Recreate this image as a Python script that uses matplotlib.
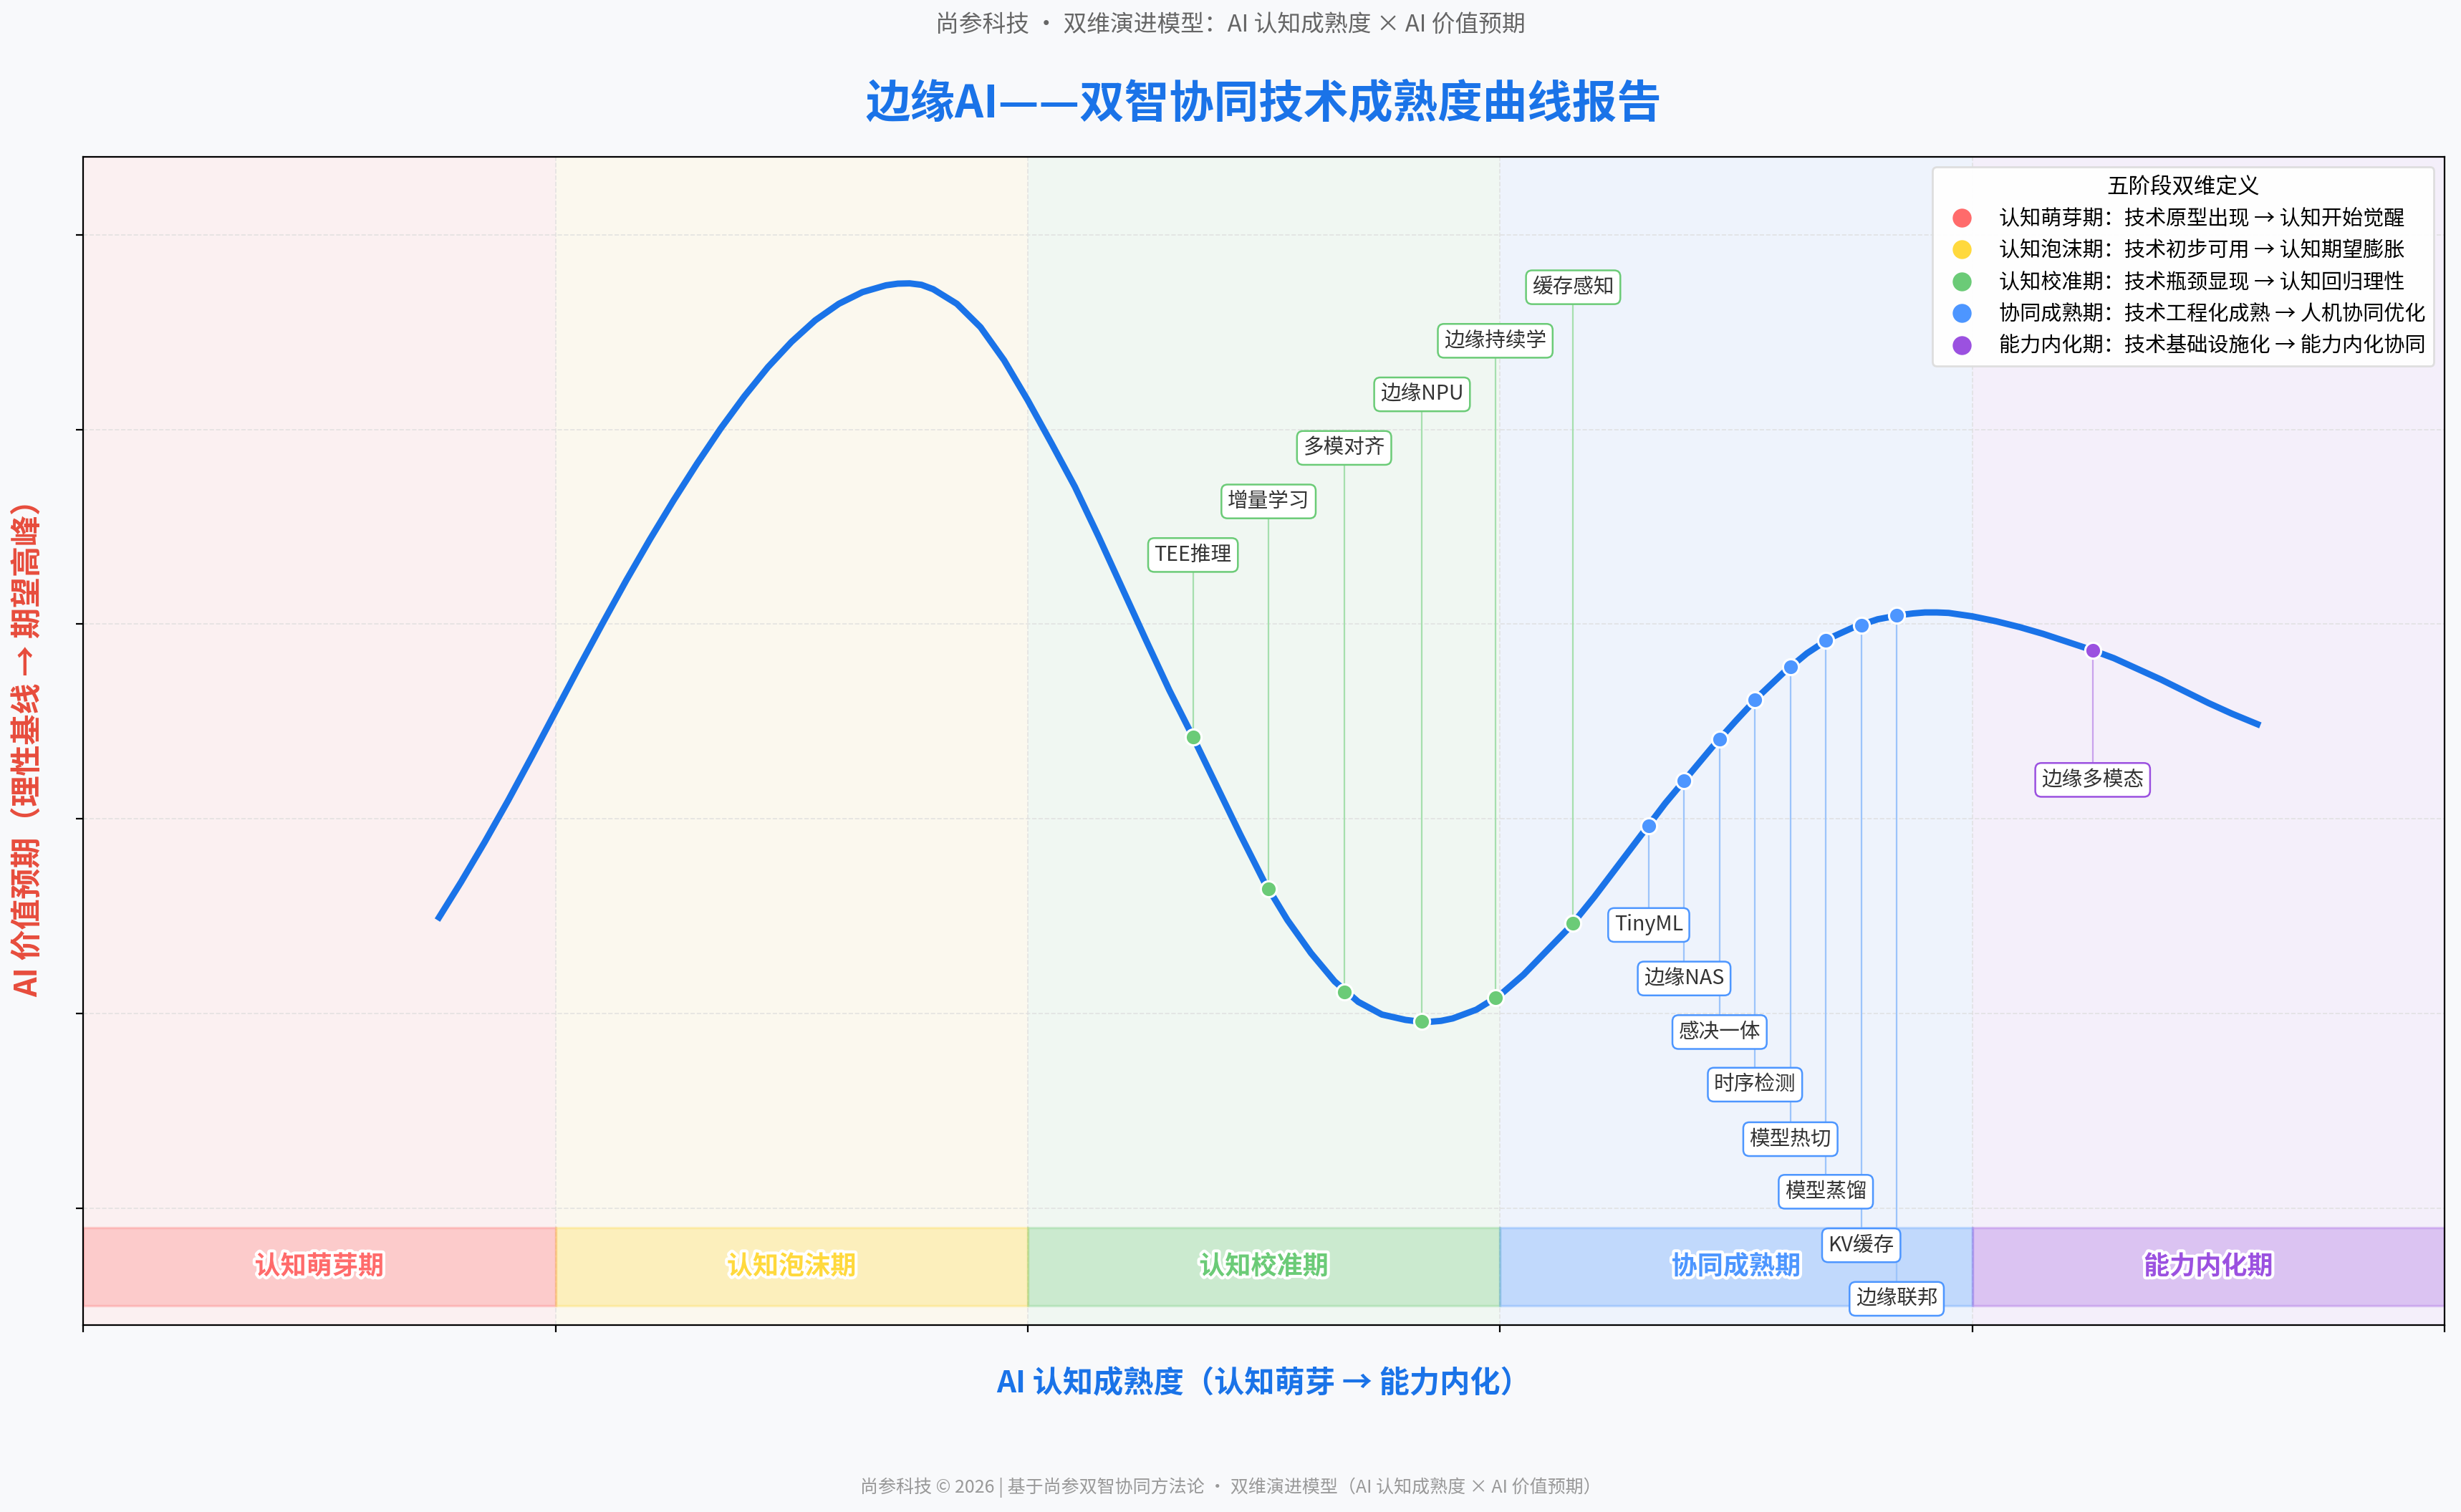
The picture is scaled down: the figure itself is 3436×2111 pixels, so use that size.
import matplotlib
matplotlib.use("Agg")
import matplotlib.pyplot as plt
import matplotlib.patheffects as pe
from matplotlib.patches import Rectangle
from matplotlib.lines import Line2D

plt.rcParams['font.family'] = ['Noto Sans CJK SC', 'DejaVu Sans']

# five phases
phases = ['认知萌芽期', '认知泡沫期', '认知校准期', '协同成熟期', '能力内化期']
phase_colors = ['#ff6b6b', '#ffd93d', '#6bcb77', '#4d96ff', '#9b51e0']
phase_desc = ['技术原型出现 → 认知开始觉醒',
              '技术初步可用 → 认知期望膨胀',
              '技术瓶颈显现 → 认知回归理性',
              '技术工程化成熟 → 人机协同优化',
              '技术基础设施化 → 能力内化协同']

# curve
curve_x = [15, 16, 17, 18, 19, 20, 21, 22, 23, 24, 25, 26, 27, 28, 29, 30,
           31, 32, 33, 34, 34.5, 35, 35.5, 36, 37, 38, 39, 40, 41, 42, 43, 44,
           45, 46, 47, 48, 49, 50, 51, 52, 53, 54, 55, 56, 56.5, 57, 57.5, 58,
           59, 60, 61, 62, 63, 64, 65, 66, 67, 68, 69, 70, 71, 72, 73, 74,
           75, 76, 77, 77.5, 78, 78.5, 79, 80, 81, 82, 83, 84, 85, 86, 87, 88,
           89, 90, 91, 92.2]
curve_y = [29.6, 33.5, 37.6, 41.9, 46.4, 51.0, 55.6, 60.1, 64.5, 68.7, 72.7, 76.5,
           80.1, 83.4, 86.4, 89.0, 91.2, 92.9, 94.1, 94.8, 94.97, 95.0, 94.85, 94.4,
           92.9, 90.5, 87.1, 83.0, 78.6, 74.1, 69.0, 63.7, 58.4, 53.2, 48.4, 43.4,
           38.4, 33.6, 29.6, 26.2, 23.3, 21.2, 19.9, 19.35, 19.2, 19.15, 19.25, 19.5,
           20.4, 21.9, 24.0, 26.5, 29.0, 32.0, 35.2, 38.4, 41.6, 44.5, 47.4, 50.1,
           52.7, 55.0, 57.0, 58.6, 59.7, 60.5, 60.95, 61.1, 61.2, 61.2, 61.15, 60.8,
           60.3, 59.7, 59.0, 58.2, 57.4, 56.5, 55.4, 54.3, 53.1, 51.9, 50.8, 49.6]

# technologies on the curve
tech_names = ['TEE推理', '增量学习', '多模对齐', '边缘NPU', '边缘持续学', '缓存感知',
              'TinyML', '边缘NAS', '感决一体', '时序检测', '模型热切', '模型蒸馏',
              'KV缓存', '边缘联邦', '边缘多模态']
tech_x = [47.0, 50.2, 53.4, 56.7, 59.8, 63.1,
          66.3, 67.8, 69.3, 70.8, 72.3, 73.8, 75.3, 76.8, 85.1]
tech_y = [48.4, 32.8, 22.2, 19.2, 21.6, 29.3,
          39.3, 43.9, 48.2, 52.2, 55.6, 58.3, 59.9, 60.9, 57.3]
tech_label_y = [67.1, 72.6, 78.1, 83.6, 89.1, 94.6,
                29.1, 23.6, 18.1, 12.7, 7.1, 1.7, -3.8, -9.3, 44.0]
tech_phase = [2, 2, 2, 2, 2, 2, 3, 3, 3, 3, 3, 3, 3, 3, 4]

line_colors = ['#ffb3b3', '#ffe99a', '#a6dfae', '#9cc4fb', '#c9a2ec']

fig = plt.figure(figsize=(17.18, 10.555), dpi=200, facecolor='#f8f9fb')
ax = fig.add_axes([0.0338, 0.1236, 0.9595, 0.7727])
ax.set_facecolor('#fbfbfc')

for i, c in enumerate(phase_colors):
    ax.axvspan(i * 20, i * 20 + 20, color=c, alpha=0.07, lw=0, zorder=0)
    ax.add_patch(Rectangle((i * 20, -10), 20, 8, facecolor=c, alpha=0.28,
                           edgecolor=c, lw=1.2, zorder=1))
    ax.text(i * 20 + 10, -6, phases[i], ha='center', va='center', fontsize=13,
            fontweight='bold', color=c, zorder=6,
            path_effects=[pe.withStroke(linewidth=3, foreground='white')])

ax.plot(curve_x, curve_y, color='#1a73e8', lw=3.2, zorder=3,
        solid_joinstyle='round', solid_capstyle='butt')

for name, x, y, ly, p in zip(tech_names, tech_x, tech_y, tech_label_y, tech_phase):
    ax.plot([x, x], [y, ly], color=line_colors[p], lw=0.8, zorder=2)
    ax.plot(x, y, 'o', ms=8, color=phase_colors[p], mec='white', mew=1.1, zorder=4)
    ax.text(x, ly, name, ha='center', va='center', fontsize=10.3, color='#333333',
            zorder=7,
            bbox=dict(boxstyle='round,pad=0.3', fc='white', ec=phase_colors[p], lw=0.9))

ax.set_xlim(0, 100)
ax.set_ylim(-12, 108)
ax.set_xticks([0, 20, 40, 60, 80, 100])
ax.set_yticks([0, 20, 40, 60, 80, 100])
ax.set_xticklabels([])
ax.set_yticklabels([])
ax.grid(True, ls='--', color='#dddddd', lw=0.6, alpha=0.8, zorder=0)
ax.set_axisbelow(True)

ax.set_title('边缘AI——双智协同技术成熟度曲线报告', fontsize=22.5, fontweight='black',
             color='#1a73e8', pad=20)
ax.set_xlabel('AI 认知成熟度（认知萌芽 → 能力内化）', fontsize=15.2, fontweight='bold',
              color='#1a73e8', labelpad=15)
ax.set_ylabel('AI 价值预期（理性基线 → 期望高峰）', fontsize=15.5, fontweight='bold',
              color='#e74c3c', labelpad=13)

handles = [Line2D([], [], marker='o', ls='', ms=8.5, color=c) for c in phase_colors]
labels = [f'{p}：{d}' for p, d in zip(phases, phase_desc)]
leg = ax.legend(handles, labels, title='五阶段双维定义', loc='upper right',
                fontsize=10.5, title_fontsize=11, framealpha=0.95, edgecolor='#dddddd',
                labelspacing=0.5)
leg.set_zorder(10)

fig.text(0.5, 0.9834, '尚参科技 · 双维演进模型：AI 认知成熟度 × AI 价值预期',
         ha='center', va='center', fontsize=11.8, color='#666666')
fig.text(0.5, 0.0161,
         '尚参科技 © 2026 | 基于尚参双智协同方法论 · 双维演进模型（AI 认知成熟度 × AI 价值预期）',
         ha='center', va='center', fontsize=9, color='#999999')

fig.savefig('out.png', dpi=200, facecolor=fig.get_facecolor())
